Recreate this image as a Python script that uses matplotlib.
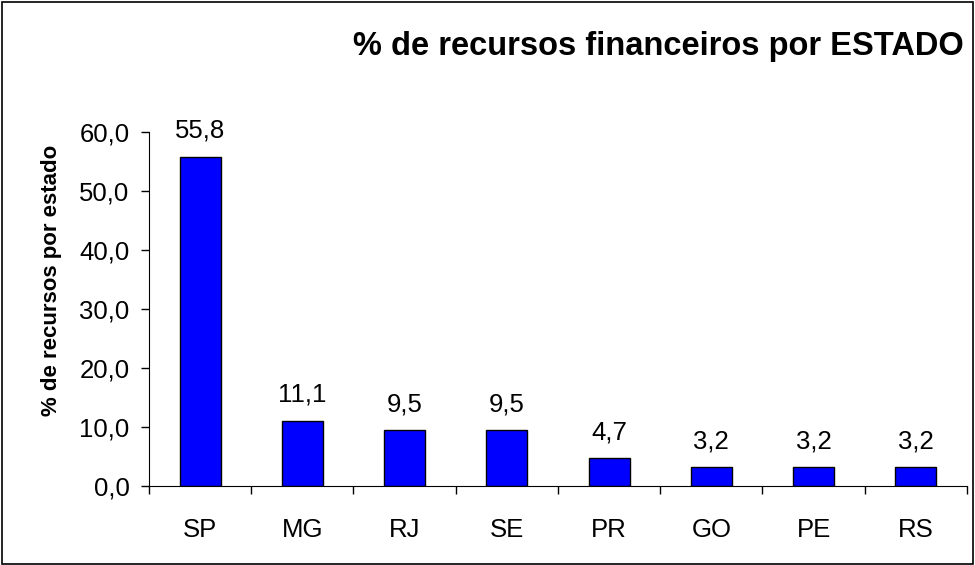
import matplotlib
matplotlib.use("Agg")
import matplotlib.pyplot as plt
from matplotlib.patches import Rectangle
import numpy as np

estados = ["SP", "MG", "RJ", "SE", "PR", "GO", "PE", "RS"]
percentuais = [55.8, 11.1, 9.5, 9.5, 4.7, 3.2, 3.2, 3.2]
rotulos_y = ["0,0", "10,0", "20,0", "30,0", "40,0", "50,0", "60,0"]
valores_y = [0, 10, 20, 30, 40, 50, 60]

plt.rcParams["font.family"] = ["Liberation Sans", "DejaVu Sans"]

fig = plt.figure(figsize=(9.75, 5.65), dpi=100)
fig.patches.append(Rectangle((0.002, 0.002), 0.996, 0.995, transform=fig.transFigure,
                             fill=False, edgecolor="black", linewidth=1.2))

ax = fig.add_axes([0.1528, 0.1398, 0.8390, 0.6266])
x = np.arange(len(estados))
ax.bar(x, percentuais, width=0.4, color="#0000FF", edgecolor="black", linewidth=1.0)

for xi, v in zip(x, percentuais):
    ax.annotate(f"{v:.1f}".replace(".", ","), (xi, v), xytext=(0, 10),
                textcoords="offset points", ha="center", va="bottom", fontsize=18.5)

ax.set_xlim(-0.5, len(estados) - 0.5)
ax.set_ylim(0, 60)
ax.set_yticks(valores_y)
ax.set_yticklabels(rotulos_y, fontsize=18.5)
ax.tick_params(axis="y", direction="out", length=6, width=1, pad=8)

ax.set_xticks(np.arange(len(estados) + 1) - 0.5)
ax.set_xticklabels([])
ax.tick_params(axis="x", which="major", direction="out", length=6, width=1)
ax.set_xticks(x, minor=True)
ax.set_xticklabels(estados, minor=True, fontsize=18.5)
ax.tick_params(axis="x", which="minor", length=0, pad=23)

ax.spines["top"].set_visible(False)
ax.spines["right"].set_visible(False)

ax.set_ylabel("% de recursos por estado", fontsize=16, fontweight="bold")
ax.yaxis.set_label_coords(-0.106, 0.58)
fig.text(0.675, 0.918, "% de recursos financeiros por ESTADO", ha="center", va="center",
         fontsize=23.5, fontweight="bold")

fig.savefig("out.png", dpi=100)
